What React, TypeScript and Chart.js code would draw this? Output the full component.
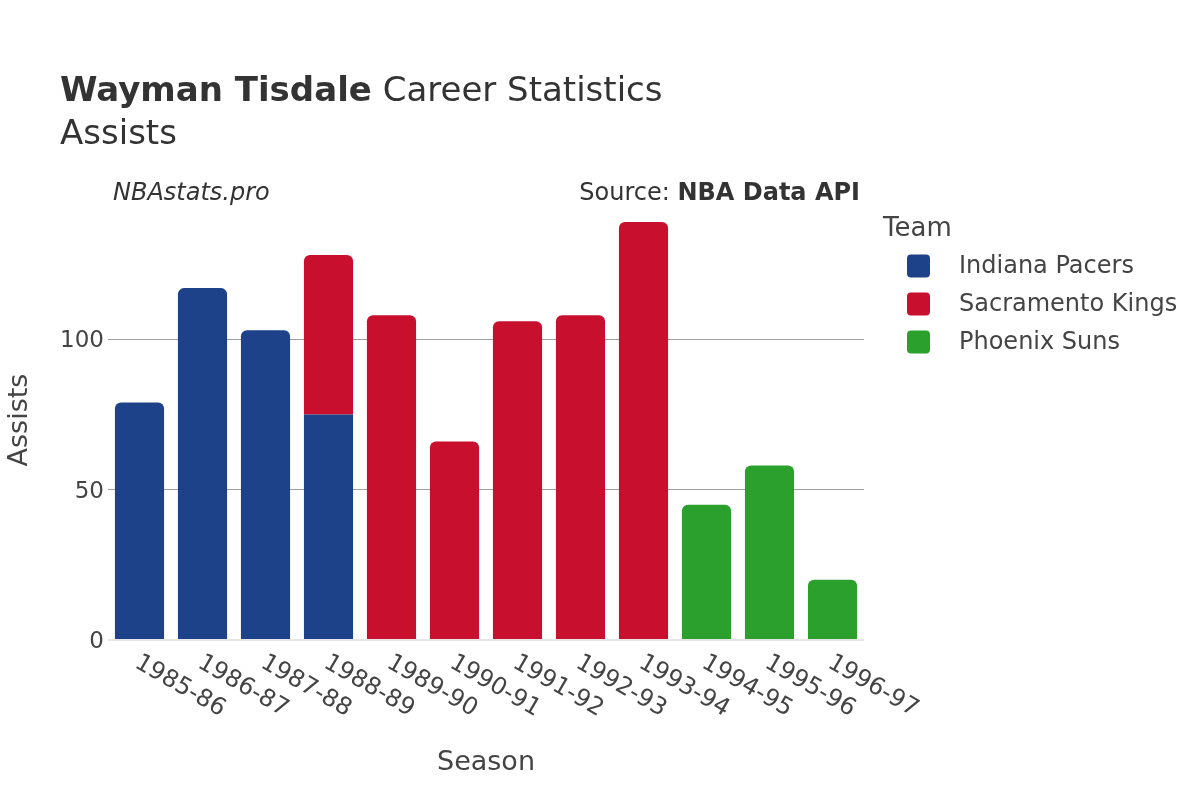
import React, { useEffect, useRef } from "react";
import { Chart, registerables } from "chart.js";

Chart.register(...registerables);

const seasons = ["1985-86", "1986-87", "1987-88", "1988-89", "1989-90", "1990-91", "1991-92", "1992-93", "1993-94", "1994-95", "1995-96", "1996-97"];
const teams = ["Indiana Pacers", "Sacramento Kings", "Phoenix Suns"];
const teamColors = ["#1d428a", "#c8102e", "#2ca02c"];
const indiana = [79, 117, 103, 75, null, null, null, null, null, null, null, null];
const sacramento = [null, null, null, 53, 108, 66, 106, 108, 139, null, null, null];
const phoenix = [null, null, null, null, null, null, null, null, null, 45, 58, 20];
const yTicks = [0, 50, 100];

const FONT = "'DejaVu Sans', Verdana, sans-serif";

const textPlugin = {
  id: "textPlugin",
  afterDraw(chart: any) {
    const ctx = chart.ctx;
    ctx.save();
    // title
    ctx.textBaseline = "alphabetic";
    ctx.textAlign = "left";
    ctx.fillStyle = "#333333";
    ctx.font = `bold 34px ${FONT}`;
    const bold = "Wayman Tisdale";
    ctx.fillText(bold, 60, 101);
    const w = ctx.measureText(bold).width;
    ctx.font = `34px ${FONT}`;
    ctx.fillText(" Career Statistics", 60 + w, 101);
    ctx.fillText("Assists", 60, 144);

    // annotations
    ctx.fillStyle = "#333333";
    ctx.font = `italic 24px ${FONT}`;
    ctx.fillText("NBAstats.pro", 113, 200);
    ctx.textAlign = "right";
    ctx.font = `bold 24px ${FONT}`;
    const b2 = "NBA Data API";
    ctx.fillText(b2, 860, 200);
    const bw = ctx.measureText(b2).width;
    ctx.font = `24px ${FONT}`;
    ctx.fillText("Source: ", 860 - bw, 200);

    // axis titles
    ctx.fillStyle = "#444444";
    ctx.font = `27px ${FONT}`;
    ctx.textAlign = "center";
    ctx.fillText("Season", 486, 770);
    ctx.save();
    ctx.translate(27, 420);
    ctx.rotate(-Math.PI / 2);
    ctx.fillText("Assists", 0, 0);
    ctx.restore();

    // x tick labels rotated
    const xs = chart.scales.x;
    ctx.font = `24px ${FONT}`;
    ctx.fillStyle = "#444444";
    ctx.textAlign = "left";
    ctx.textBaseline = "middle";
    seasons.forEach((s, i) => {
      const x = xs.getPixelForTick(i);
      ctx.save();
      ctx.translate(x - 3, 661);
      ctx.rotate(Math.PI / 6);
      ctx.fillText(s, 0, 0);
      ctx.restore();
    });

    // legend
    ctx.textAlign = "left";
    ctx.textBaseline = "alphabetic";
    ctx.fillStyle = "#444444";
    ctx.font = `26px ${FONT}`;
    ctx.fillText("Team", 883, 236);
    ctx.font = `24px ${FONT}`;
    teams.forEach((t, i) => {
      const cy = 266 + i * 38;
      ctx.fillStyle = teamColors[i];
      ctx.beginPath();
      (ctx as any).roundRect(907, cy - 11.5, 23, 23, 4);
      ctx.fill();
      ctx.fillStyle = "#444444";
      ctx.textBaseline = "middle";
      ctx.fillText(t, 959, cy + 1);
    });
    ctx.restore();
  },
};

export default function App() {
  const ref = useRef<HTMLCanvasElement>(null);
  useEffect(() => {
    document.body.style.margin = "0";
    const series = [indiana, sacramento, phoenix];
    const chart = new Chart(ref.current!, {
      type: "bar",
      data: {
        labels: seasons,
        datasets: teams.map((t, i) => ({
          label: t,
          data: series[i] as any,
          backgroundColor: teamColors[i],
          borderColor: "#ffffff",
          borderWidth: 0,
          borderRadius: 6,
          categoryPercentage: 1,
          barPercentage: 0.78,
        })),
      },
      options: {
        animation: false,
        responsive: false,
        events: [],
        layout: { padding: { left: 0, right: 336, top: 200, bottom: 0 } },
        plugins: { legend: { display: false }, tooltip: { enabled: false }, title: { display: false } },
        scales: {
          x: {
            stacked: true,
            grid: { display: false },
            border: { display: false },
            ticks: { display: false },
            afterFit: (s: any) => { s.height = 160; },
          },
          y: {
            stacked: true,
            min: 0,
            max: 146.3,
            afterBuildTicks: (s: any) => { s.ticks = yTicks.map((v) => ({ value: v })); },
            afterFit: (s: any) => { s.width = 108; },
            border: { display: false },
            grid: {
              drawTicks: false,
              color: (c: any) => (c.tick && c.tick.value === 0 ? "#e6e6e6" : "#a0a0a0"),
              lineWidth: (c: any) => (c.tick && c.tick.value === 0 ? 2 : 1),
            },
            ticks: {
              padding: 4,
              labelOffset: 2,
              color: "#444444",
              font: { family: FONT, size: 23 },
            },
          },
        },
      },
      plugins: [textPlugin],
    });
    return () => chart.destroy();
  }, []);
  return (
    <div style={{ position: "absolute", left: 0, top: 0, width: 1200, height: 800, background: "#fff" }}>
      <canvas ref={ref} width={1200} height={800} style={{ width: 1200, height: 800 }} />
    </div>
  );
}
